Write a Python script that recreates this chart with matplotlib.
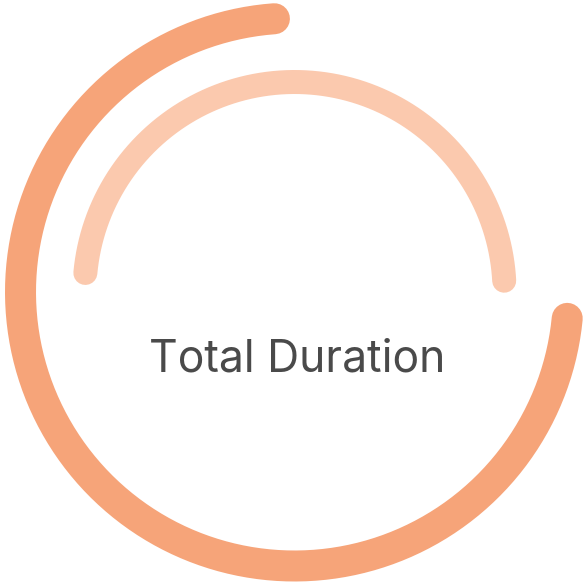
import numpy as np
import matplotlib.pyplot as plt

# radial bars (fraction of full circle), start angle in degrees (math convention)
bar_names = ['Total', 'Elapsed']
bar_values = [0.723, 0.477]
bar_start = [94.2, 174.8]
bar_direction = [1, -1]  # 1 = counter-clockwise, -1 = clockwise
bar_radius = [274, 210]
bar_width = [31, 24]
bar_colors = ['#f6a479', '#fbc9ae']

center_label = 'Total Duration'

W, H = 584, 583
cx, cy = 294.5, 292

fig = plt.figure(figsize=(W / 100, H / 100), dpi=100)
ax = fig.add_axes([0, 0, 1, 1])
ax.set_xlim(0, W)
ax.set_ylim(H, 0)
ax.set_aspect('equal')
ax.axis('off')

for name, val, start, d, r, w, c in zip(bar_names, bar_values, bar_start,
                                        bar_direction, bar_radius, bar_width, bar_colors):
    theta = np.radians(start + d * np.linspace(0, val * 360, 400))
    x = cx + r * np.cos(theta)
    y = cy - r * np.sin(theta)
    ax.plot(x, y, color=c, lw=w * 0.72, solid_capstyle='round', label=name)

t = ax.text(296.7, 372, center_label, ha='center', va='baseline', fontsize=28,
            family='Inter', color='#4a4a4a')
# fit label width to ~297 px
fig.canvas.draw()
wpx = t.get_window_extent().width
t.set_fontsize(28 * 297 / wpx)

fig.savefig('out.png', dpi=100)
